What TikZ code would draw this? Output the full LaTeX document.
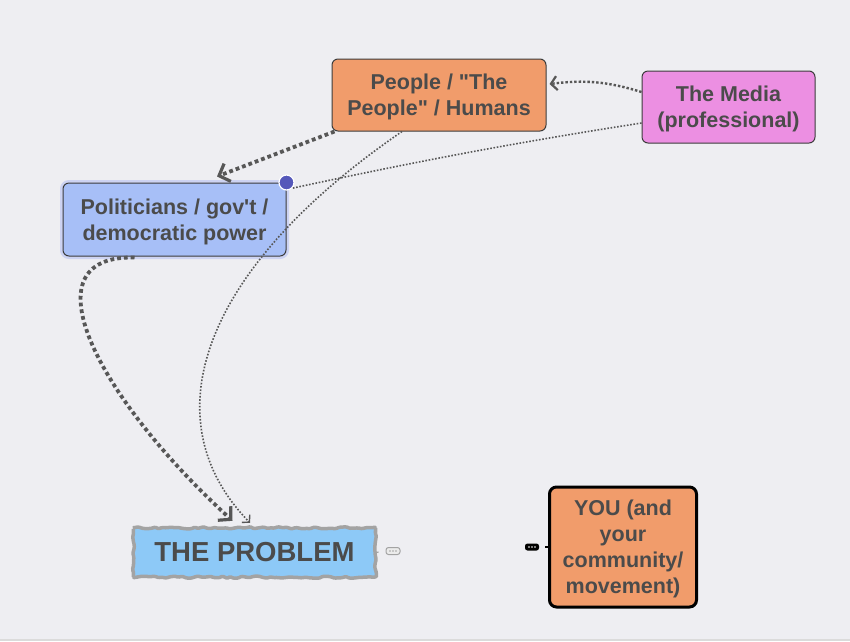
\documentclass[tikz,border=0pt]{standalone}
\usepackage{fontspec}
\setmainfont{Liberation Sans}[Ligatures=TeXOff]
\usetikzlibrary{arrows.meta,decorations.pathmorphing,calc}
\definecolor{bgc}{HTML}{EEEEF2}
\definecolor{orangebox}{HTML}{F19C6B}
\definecolor{pinkbox}{HTML}{EC8FE2}
\definecolor{bluebox}{HTML}{A7BFF7}
\definecolor{glowc}{HTML}{CDD3F2}
\definecolor{probbox}{HTML}{8DC9F7}
\definecolor{probedge}{HTML}{A3A3A3}
\definecolor{txt}{HTML}{4B4B4B}
\definecolor{conn}{HTML}{575757}
\definecolor{dotc}{HTML}{5558BA}
\tikzset{
  box/.style={draw=txt!80!black, line width=1pt, rounded corners=6pt, inner sep=0pt,
    align=center, text=txt, text depth=0pt, font=\bfseries\fontsize{21.5}{26}\selectfont},
  thickdot/.style={conn, line width=3.8pt, dash pattern=on 3.8pt off 3pt,
    -{Straight Barb[length=9pt,width=19pt,line width=3.2pt]}},
  meddot/.style={conn, line width=2.4pt, dash pattern=on 2.4pt off 2pt,
    -{Straight Barb[length=6pt,width=14pt,line width=2.2pt]}},
  thindot/.style={conn, line width=1.6pt, dash pattern=on 1.6pt off 1.7pt},
  pill/.style={rounded corners=2.5pt, minimum width=14pt, minimum height=7pt, inner sep=0pt},
}
\begin{document}
\begin{tikzpicture}[x=1pt,y=-1pt]
\useasboundingbox (0,0) rectangle (850,641);
\fill[bgc] (0,0) rectangle (850,641);
\fill[black!14] (0,638.5) rectangle (850,641);

% nodes
\node[box, fill=orangebox, minimum width=214pt, minimum height=72pt] (people) at (439,95)
  {People / "The\\People" / Humans};
\node[box, fill=pinkbox, minimum width=173pt, minimum height=72pt] (media) at (728.5,107)
  {The Media\\(professional)};
\node[box, fill=bluebox, minimum width=223pt, minimum height=73pt,
  preaction={draw=glowc, line width=6pt}] (pol) at (174.5,219.5)
  {Politicians / gov't /\\democratic power};
\node[inner sep=0pt, minimum width=242pt, minimum height=49pt, fill=probbox,
  text=txt, font=\bfseries\fontsize{27.5}{30}\selectfont] (prob) at (254.5,552.5) {THE PROBLEM};
\pgfmathsetseed{7}
\draw[probedge, line width=3.5pt, rounded corners=1pt,
  decorate, decoration={random steps, segment length=4pt, amplitude=1.1pt}]
  (prob.north west) rectangle (prob.south east);
\node[box, fill=orangebox, draw=black, line width=3pt, rounded corners=7pt,
  minimum width=147pt, minimum height=120pt] (you) at (623,547)
  {YOU (and\\your\\community/\\movement)};

% collapse pills
\node[pill, draw=probedge, line width=1pt, fill=black!8] (pillp) at (393,551) {};
\foreach \d in {-3,0,3} \fill[probedge] ($(pillp)+(\d,0)$) circle (0.9pt);
\node[pill, fill=black] (pilly) at (532,547) {};
\foreach \d in {-3,0,3} \fill[white] ($(pilly)+(\d,0)$) circle (0.9pt);
\draw[probedge, line width=1.2pt, shorten >=7pt] (prob.east) -- (pillp.west);
\draw[black, line width=1.5pt, shorten >=6pt] (you.west) -- (pilly.east);

% connectors
\draw[meddot] ([yshift=15pt]media.west) to[bend right=12] ([xshift=3pt,yshift=11pt]people.east);
\draw[thickdot] ([xshift=3pt]people.south west) -- ([xshift=42.5pt,yshift=6pt]pol.north);
\node[circle, fill=dotc, draw=white, line width=1.2pt, minimum size=15pt, inner sep=0pt]
  (dot) at (pol.north east) {};
\draw[thindot] ([yshift=-16pt]media.west) .. controls (500,145) and (400,165) .. (dot.south east);
\draw[thindot, -{Straight Barb[length=5pt,width=11pt,line width=1.4pt]}]
  ([xshift=-37pt]people.south) .. controls (200,270) and (150,420) ..
  ([xshift=-4.5pt,yshift=5pt]prob.north);
\draw[thickdot] ([xshift=-40pt,yshift=-1pt]pol.south) .. controls (25,255) and (95,395) ..
  ([xshift=-22pt,yshift=7pt]prob.north);
\end{tikzpicture}
\end{document}
